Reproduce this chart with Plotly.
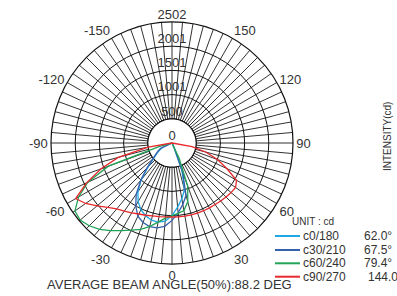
import numpy as np
import plotly.graph_objects as go

W, H = 397, 296

# ---------------- data ----------------
theta = list(range(-90, 95, 5))  # gamma angles, degrees

c0_180 = [0, 0, 0, 0, 0, 220, 300, 390, 500, 700, 990, 1230, 1400, 1520, 1600, 1650, 1660, 1620,
          1500, 1330, 1170, 1000, 600, 80, 0, 0, 0, 0, 0, 0, 0, 0, 0, 0, 0, 0, 0]
c30_210 = [0, 0, 0, 0, 0, 260, 330, 410, 520, 740, 1000, 1290, 1500, 1670, 1750, 1790, 1780, 1730,
           1600, 1450, 1290, 1120, 650, 100, 0, 0, 0, 0, 0, 0, 0, 0, 0, 0, 0, 0, 0]
c60_240 = [0, 0, 0, 250, 1400, 1920, 2230, 2450, 2480, 2420, 2330, 2210, 2090, 1990, 1900, 1790, 1660, 1560,
           1500, 1460, 1420, 1260, 950, 350, 0, 0, 0, 0, 0, 0, 0, 0, 0, 0, 0, 0, 0]
c90_270 = [0, 0, 500, 1150, 1560, 1950, 2300, 2180, 2020, 1880, 1780, 1720, 1670, 1620, 1590, 1560, 1545, 1535,
           1530, 1532, 1535, 1538, 1541, 1545, 1550, 1553, 1565, 1580, 1595, 1605, 1540, 1250, 1000, 720, 420, 0, 0]

series_names = ["c0/180", "c30/210", "c60/240", "c90/270"]
series_values = [c0_180, c30_210, c60_240, c90_270]
series_colors = ["#1fa8e3", "#3461ad", "#22a456", "#e8282c"]
beam_angles = ["62.0°", "67.5°", "79.4°", "144.0°"]

ring_values = [0, 500, 1001, 1501, 2001, 2502]
ring_labels = ["0", "500", "1001", "1501", "2001", "2502"]
angle_label_vals = [0, 30, 60, 90, 120, 150, 180, 210, 240, 270, 300, 330]
angle_label_text = ["0", "30", "60", "90", "120", "150", "", "-150", "-120", "-90", "-60", "-30"]

# ---------------- layout helpers ----------------
FONT = "Liberation Sans, Arial, sans-serif"
cx, cy, R = 172, 143, 121


def px(x):
    return x / W


def py(y):
    return 1 - y / H


spoke_vals = list(range(0, 360, 5))
spoke_text = []
for v in spoke_vals:
    if v in angle_label_vals:
        spoke_text.append(angle_label_text[angle_label_vals.index(v)])
    else:
        spoke_text.append("")

fig = go.Figure()

# white disc hiding spokes inside the first ring
circ = np.linspace(0, 360, 181)
fig.add_trace(go.Scatterpolar(theta=circ, r=[ring_values[1]] * len(circ), mode="lines",
                              fill="toself", fillcolor="white",
                              line=dict(color="#111111", width=1.2), hoverinfo="skip"))

for name, vals, col in zip(series_names, series_values, series_colors):
    fig.add_trace(go.Scatterpolar(theta=theta, r=vals, mode="lines", name=name,
                                  line=dict(color=col, width=1.3)))

# radial labels along the top spoke
fig.add_trace(go.Scatterpolar(theta=[180] * len(ring_values), r=ring_values, mode="text",
                              text=ring_labels, textposition="top center", cliponaxis=False,
                              textfont=dict(family=FONT, size=13, color="#333333"), hoverinfo="skip"))

fig.update_layout(
    width=W, height=H, margin=dict(l=0, r=0, t=0, b=0),
    paper_bgcolor="white", showlegend=False,
    polar=dict(
        domain=dict(x=[px(cx - R), px(cx + R)], y=[py(cy + R), py(cy - R)]),
        bgcolor="white",
        radialaxis=dict(range=[0, 2502], tickmode="array", tickvals=ring_values[1:],
                        showticklabels=False, ticks="", showline=False,
                        gridcolor="#111111", gridwidth=1.2),
        angularaxis=dict(rotation=270, direction="counterclockwise", tickmode="array",
                         tickvals=spoke_vals, ticktext=spoke_text, ticks="",
                         showline=True, linecolor="#111111", linewidth=1.2,
                         gridcolor="#333333", gridwidth=1,
                         tickfont=dict(family=FONT, size=13, color="#333333")),
    ),
)

# legend (manual, compact)
fig.add_annotation(x=px(290), y=py(221), xref="paper", yref="paper", text="UNIT : cd",
                   showarrow=False, xanchor="left", yanchor="middle",
                   font=dict(family=FONT, size=10, color="#333333"))
rows_y = [236, 250, 263.3, 276.7]
val_x = [361.5, 361.5, 361.5, 366]
for i, (name, col, ang) in enumerate(zip(series_names, series_colors, beam_angles)):
    yy = rows_y[i]
    fig.add_shape(type="line", xref="paper", yref="paper", x0=px(275), x1=px(300),
                  y0=py(yy), y1=py(yy), line=dict(color=col, width=2))
    fig.add_annotation(x=px(301), y=py(yy), xref="paper", yref="paper", text=name,
                       showarrow=False, xanchor="left", yanchor="middle",
                       font=dict(family=FONT, size=12, color="#333333"))
    fig.add_annotation(x=px(val_x[i]), y=py(yy), xref="paper", yref="paper", text=ang,
                       showarrow=False, xanchor="left", yanchor="middle",
                       font=dict(family=FONT, size=12, color="#333333"))

fig.add_annotation(x=px(169), y=py(284), xref="paper", yref="paper",
                   text="AVERAGE BEAM ANGLE(50%):88.2 DEG", showarrow=False,
                   xanchor="center", yanchor="middle",
                   font=dict(family=FONT, size=13, color="#333333"))
fig.add_annotation(x=px(387), y=py(137), xref="paper", yref="paper",
                   text="INTENSITY(cd)", textangle=-90, showarrow=False,
                   xanchor="center", yanchor="middle",
                   font=dict(family=FONT, size=10, color="#333333"))

fig.write_html("out.html", config={"displayModeBar": False},
               post_script="document.body.style.margin='0';document.body.style.padding='0';")
